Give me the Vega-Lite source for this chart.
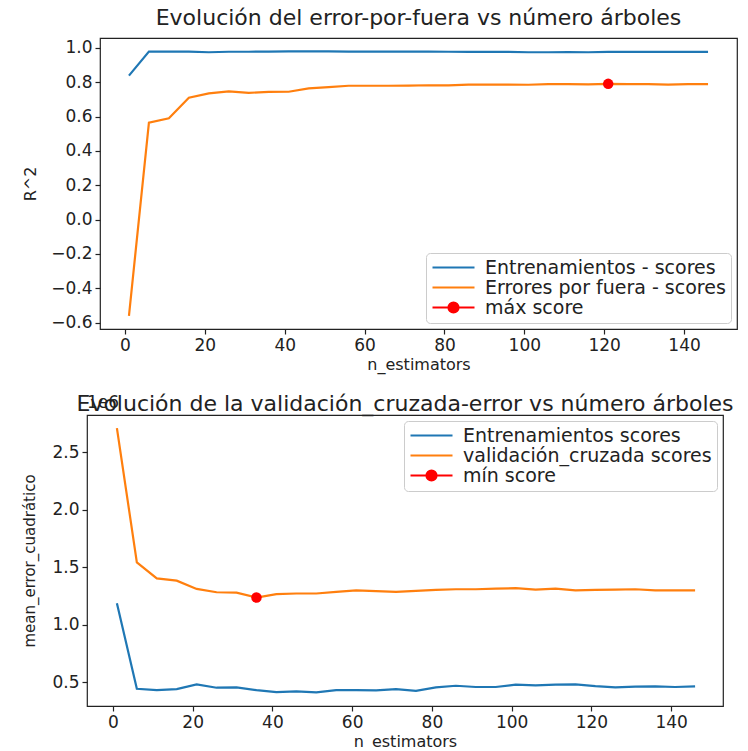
{
  "$schema": "https://vega.github.io/schema/vega-lite/v6.json",
  "background": "white",
  "padding": {"left": 21, "top": 6, "right": 0, "bottom": 0},
  "config": {
    "font": "DejaVu Sans",
    "view": {"stroke": "#222222", "strokeWidth": 1.2},
    "axis": {"grid": false, "domain": false, "tickColor": "#222222", "tickSize": 5, "tickWidth": 1.2, "tickCount": 20, "labelFontSize": 17, "titleFontSize": 16, "labelColor": "#222222", "titleColor": "#222222", "titleFontWeight": "normal", "labelPadding": 3, "labelFlush": false, "labelOverlap": false, "titlePadding": 6},
    "axisX": {"titlePadding": 3},
    "title": {"fontSize": 22, "fontWeight": "normal", "color": "#222222", "offset": 8, "anchor": "middle"},
    "legend": {"labelFontSize": 19, "labelColor": "#222222", "labelLimit": 0, "strokeColor": "#cccccc", "fillColor": "rgba(255,255,255,0.8)", "cornerRadius": 4, "padding": 5, "rowPadding": 0, "symbolType": "M-1,0L4.25,0", "symbolSize": 256, "symbolStrokeWidth": 2.2, "labelOffset": 35, "offset": 6}
  },
  "datasets": {
    "top": [
      {"n": 1, "serie": "Entrenamientos - scores", "score": 0.838},
      {"n": 6, "serie": "Entrenamientos - scores", "score": 0.978},
      {"n": 11, "serie": "Entrenamientos - scores", "score": 0.978},
      {"n": 16, "serie": "Entrenamientos - scores", "score": 0.978},
      {"n": 21, "serie": "Entrenamientos - scores", "score": 0.974},
      {"n": 26, "serie": "Entrenamientos - scores", "score": 0.977},
      {"n": 31, "serie": "Entrenamientos - scores", "score": 0.977},
      {"n": 36, "serie": "Entrenamientos - scores", "score": 0.978},
      {"n": 41, "serie": "Entrenamientos - scores", "score": 0.979},
      {"n": 46, "serie": "Entrenamientos - scores", "score": 0.979},
      {"n": 51, "serie": "Entrenamientos - scores", "score": 0.979},
      {"n": 56, "serie": "Entrenamientos - scores", "score": 0.978},
      {"n": 61, "serie": "Entrenamientos - scores", "score": 0.978},
      {"n": 66, "serie": "Entrenamientos - scores", "score": 0.978},
      {"n": 71, "serie": "Entrenamientos - scores", "score": 0.978},
      {"n": 76, "serie": "Entrenamientos - scores", "score": 0.978},
      {"n": 81, "serie": "Entrenamientos - scores", "score": 0.977},
      {"n": 86, "serie": "Entrenamientos - scores", "score": 0.976},
      {"n": 91, "serie": "Entrenamientos - scores", "score": 0.976},
      {"n": 96, "serie": "Entrenamientos - scores", "score": 0.976},
      {"n": 101, "serie": "Entrenamientos - scores", "score": 0.974},
      {"n": 106, "serie": "Entrenamientos - scores", "score": 0.974},
      {"n": 111, "serie": "Entrenamientos - scores", "score": 0.975},
      {"n": 116, "serie": "Entrenamientos - scores", "score": 0.974},
      {"n": 121, "serie": "Entrenamientos - scores", "score": 0.976},
      {"n": 126, "serie": "Entrenamientos - scores", "score": 0.976},
      {"n": 131, "serie": "Entrenamientos - scores", "score": 0.976},
      {"n": 136, "serie": "Entrenamientos - scores", "score": 0.976},
      {"n": 141, "serie": "Entrenamientos - scores", "score": 0.976},
      {"n": 146, "serie": "Entrenamientos - scores", "score": 0.976},
      {"n": 1, "serie": "Errores por fuera - scores", "score": -0.56},
      {"n": 6, "serie": "Errores por fuera - scores", "score": 0.564},
      {"n": 11, "serie": "Errores por fuera - scores", "score": 0.59},
      {"n": 16, "serie": "Errores por fuera - scores", "score": 0.709},
      {"n": 21, "serie": "Errores por fuera - scores", "score": 0.735},
      {"n": 26, "serie": "Errores por fuera - scores", "score": 0.746},
      {"n": 31, "serie": "Errores por fuera - scores", "score": 0.738},
      {"n": 36, "serie": "Errores por fuera - scores", "score": 0.743},
      {"n": 41, "serie": "Errores por fuera - scores", "score": 0.744},
      {"n": 46, "serie": "Errores por fuera - scores", "score": 0.764},
      {"n": 51, "serie": "Errores por fuera - scores", "score": 0.771},
      {"n": 56, "serie": "Errores por fuera - scores", "score": 0.779},
      {"n": 61, "serie": "Errores por fuera - scores", "score": 0.779},
      {"n": 66, "serie": "Errores por fuera - scores", "score": 0.779},
      {"n": 71, "serie": "Errores por fuera - scores", "score": 0.78},
      {"n": 76, "serie": "Errores por fuera - scores", "score": 0.782},
      {"n": 81, "serie": "Errores por fuera - scores", "score": 0.781},
      {"n": 86, "serie": "Errores por fuera - scores", "score": 0.786},
      {"n": 91, "serie": "Errores por fuera - scores", "score": 0.786},
      {"n": 96, "serie": "Errores por fuera - scores", "score": 0.786},
      {"n": 101, "serie": "Errores por fuera - scores", "score": 0.785},
      {"n": 106, "serie": "Errores por fuera - scores", "score": 0.789},
      {"n": 111, "serie": "Errores por fuera - scores", "score": 0.789},
      {"n": 116, "serie": "Errores por fuera - scores", "score": 0.787},
      {"n": 121, "serie": "Errores por fuera - scores", "score": 0.79},
      {"n": 126, "serie": "Errores por fuera - scores", "score": 0.789},
      {"n": 131, "serie": "Errores por fuera - scores", "score": 0.788},
      {"n": 136, "serie": "Errores por fuera - scores", "score": 0.786},
      {"n": 141, "serie": "Errores por fuera - scores", "score": 0.788},
      {"n": 146, "serie": "Errores por fuera - scores", "score": 0.788}
    ],
    "topmax": [
      {"n": 121, "serie": "máx score", "score": 0.79}
    ],
    "bottom": [
      {"n": 1, "serie": "Entrenamientos scores", "mse": 1188000},
      {"n": 6, "serie": "Entrenamientos scores", "mse": 445000},
      {"n": 11, "serie": "Entrenamientos scores", "mse": 433000},
      {"n": 16, "serie": "Entrenamientos scores", "mse": 442000},
      {"n": 21, "serie": "Entrenamientos scores", "mse": 483000},
      {"n": 26, "serie": "Entrenamientos scores", "mse": 454000},
      {"n": 31, "serie": "Entrenamientos scores", "mse": 457000},
      {"n": 36, "serie": "Entrenamientos scores", "mse": 433000},
      {"n": 41, "serie": "Entrenamientos scores", "mse": 416000},
      {"n": 46, "serie": "Entrenamientos scores", "mse": 422000},
      {"n": 51, "serie": "Entrenamientos scores", "mse": 413000},
      {"n": 56, "serie": "Entrenamientos scores", "mse": 433000},
      {"n": 61, "serie": "Entrenamientos scores", "mse": 433000},
      {"n": 66, "serie": "Entrenamientos scores", "mse": 430000},
      {"n": 71, "serie": "Entrenamientos scores", "mse": 442000},
      {"n": 76, "serie": "Entrenamientos scores", "mse": 427000},
      {"n": 81, "serie": "Entrenamientos scores", "mse": 457000},
      {"n": 86, "serie": "Entrenamientos scores", "mse": 471000},
      {"n": 91, "serie": "Entrenamientos scores", "mse": 460000},
      {"n": 96, "serie": "Entrenamientos scores", "mse": 460000},
      {"n": 101, "serie": "Entrenamientos scores", "mse": 480000},
      {"n": 106, "serie": "Entrenamientos scores", "mse": 474000},
      {"n": 111, "serie": "Entrenamientos scores", "mse": 480000},
      {"n": 116, "serie": "Entrenamientos scores", "mse": 483000},
      {"n": 121, "serie": "Entrenamientos scores", "mse": 468000},
      {"n": 126, "serie": "Entrenamientos scores", "mse": 457000},
      {"n": 131, "serie": "Entrenamientos scores", "mse": 463000},
      {"n": 136, "serie": "Entrenamientos scores", "mse": 466000},
      {"n": 141, "serie": "Entrenamientos scores", "mse": 460000},
      {"n": 146, "serie": "Entrenamientos scores", "mse": 466000},
      {"n": 1, "serie": "validación_cruzada scores", "mse": 2711000},
      {"n": 6, "serie": "validación_cruzada scores", "mse": 1544000},
      {"n": 11, "serie": "validación_cruzada scores", "mse": 1405000},
      {"n": 16, "serie": "validación_cruzada scores", "mse": 1385000},
      {"n": 21, "serie": "validación_cruzada scores", "mse": 1313000},
      {"n": 26, "serie": "validación_cruzada scores", "mse": 1284000},
      {"n": 31, "serie": "validación_cruzada scores", "mse": 1281000},
      {"n": 36, "serie": "validación_cruzada scores", "mse": 1238000},
      {"n": 41, "serie": "validación_cruzada scores", "mse": 1267000},
      {"n": 46, "serie": "validación_cruzada scores", "mse": 1273000},
      {"n": 51, "serie": "validación_cruzada scores", "mse": 1273000},
      {"n": 56, "serie": "validación_cruzada scores", "mse": 1287000},
      {"n": 61, "serie": "validación_cruzada scores", "mse": 1301000},
      {"n": 66, "serie": "validación_cruzada scores", "mse": 1293000},
      {"n": 71, "serie": "validación_cruzada scores", "mse": 1287000},
      {"n": 76, "serie": "validación_cruzada scores", "mse": 1296000},
      {"n": 81, "serie": "validación_cruzada scores", "mse": 1304000},
      {"n": 86, "serie": "validación_cruzada scores", "mse": 1310000},
      {"n": 91, "serie": "validación_cruzada scores", "mse": 1310000},
      {"n": 96, "serie": "validación_cruzada scores", "mse": 1316000},
      {"n": 101, "serie": "validación_cruzada scores", "mse": 1319000},
      {"n": 106, "serie": "validación_cruzada scores", "mse": 1307000},
      {"n": 111, "serie": "validación_cruzada scores", "mse": 1316000},
      {"n": 116, "serie": "validación_cruzada scores", "mse": 1301000},
      {"n": 121, "serie": "validación_cruzada scores", "mse": 1304000},
      {"n": 126, "serie": "validación_cruzada scores", "mse": 1307000},
      {"n": 131, "serie": "validación_cruzada scores", "mse": 1310000},
      {"n": 136, "serie": "validación_cruzada scores", "mse": 1301000},
      {"n": 141, "serie": "validación_cruzada scores", "mse": 1301000},
      {"n": 146, "serie": "validación_cruzada scores", "mse": 1301000}
    ],
    "bottommin": [
      {"n": 36, "serie": "mín score", "mse": 1238000}
    ],
    "empty": []
  },
  "vconcat": [
    {
      "spacing": 0,
      "resolve": {"scale": {"color": "independent", "x": "independent", "y": "independent"}, "legend": {"color": "independent"}},
      "hconcat": [
        {
          "width": 1, "height": 1,
          "view": {"stroke": null},
          "data": {"name": "empty"},
          "mark": "point"
        },
        {
          "title": "Evolución del error-por-fuera vs número árboles",
          "width": 637,
          "height": 291,
          "layer": [
            {
              "data": {"name": "top"},
              "mark": {"type": "line", "strokeWidth": 2.2},
              "encoding": {
                "x": {"field": "n", "type": "quantitative", "scale": {"domain": [-6.25, 153.25], "nice": false, "zero": false}, "axis": {"values": [0, 20, 40, 60, 80, 100, 120, 140], "title": "n_estimators", "labelOverlap": false, "tickCount": 20}},
                "y": {"field": "score", "type": "quantitative", "scale": {"domain": [-0.637, 1.057], "nice": false, "zero": false}, "axis": {"values": [-0.6, -0.4, -0.2, 0, 0.2, 0.4, 0.6, 0.8, 1.0], "format": ".1f", "title": "R^2", "labelOverlap": false, "tickCount": 20, "titlePadding": 12}},
                "color": {
                  "field": "serie", "type": "nominal",
                  "scale": {"domain": ["Entrenamientos - scores", "Errores por fuera - scores", "máx score"], "range": ["#1f77b4", "#ff7f0e", "#ff0000"]},
                  "legend": {
                    "title": null, "orient": "bottom-right",
                    "encode": {"symbols": {"update": {
                      "shape": {"signal": "datum.value === 'máx score' ? 'M-1,0L4.25,0M1,0A0.625,0.625 0 1,1 2.25,0A0.625,0.625 0 1,1 1,0Z' : 'M-1,0L4.25,0'"},
                      "fill": {"signal": "datum.value === 'máx score' ? '#ff0000' : 'transparent'"}
                    }}}
                  }
                }
              }
            },
            {
              "data": {"name": "topmax"},
              "mark": {"type": "point", "filled": true, "size": 110, "opacity": 1, "shape": "circle"},
              "encoding": {
                "x": {"field": "n", "type": "quantitative"},
                "y": {"field": "score", "type": "quantitative"},
                "color": {"field": "serie", "type": "nominal"}
              }
            }
          ]
        }
      ]
    },
    {
      "spacing": 0,
      "resolve": {"scale": {"color": "independent", "x": "independent", "y": "independent"}, "legend": {"color": "independent"}},
      "hconcat": [
        {
          "width": 1, "height": 1,
          "view": {"stroke": null},
          "data": {"name": "empty"},
          "mark": "point"
        },
        {
          "title": {"text": "Evolución de la validación_cruzada-error vs número árboles", "offset": -22},
          "width": 636,
          "height": 291,
          "layer": [
            {
              "data": {"name": "bottom"},
              "mark": {"type": "line", "strokeWidth": 2.2},
              "encoding": {
                "x": {"field": "n", "type": "quantitative", "scale": {"domain": [-6.5, 153], "nice": false, "zero": false}, "axis": {"values": [0, 20, 40, 60, 80, 100, 120, 140], "title": "n_estimators", "labelOverlap": false, "tickCount": 20}},
                "y": {"field": "mse", "type": "quantitative", "scale": {"domain": [295000, 2825000], "nice": false, "zero": false}, "axis": {"values": [500000, 1000000, 1500000, 2000000, 2500000], "labelExpr": "format(datum.value / 1000000, '.1f')", "title": "mean_error_cuadrático", "titleFontSize": 15, "labelOverlap": false, "tickCount": 20, "titlePadding": 14}},
                "color": {
                  "field": "serie", "type": "nominal",
                  "scale": {"domain": ["Entrenamientos scores", "validación_cruzada scores", "mín score"], "range": ["#1f77b4", "#ff7f0e", "#ff0000"]},
                  "legend": {
                    "title": null, "orient": "top-right",
                    "encode": {"symbols": {"update": {
                      "shape": {"signal": "datum.value === 'mín score' ? 'M-1,0L4.25,0M1,0A0.625,0.625 0 1,1 2.25,0A0.625,0.625 0 1,1 1,0Z' : 'M-1,0L4.25,0'"},
                      "fill": {"signal": "datum.value === 'mín score' ? '#ff0000' : 'transparent'"}
                    }}}
                  }
                }
              }
            },
            {
              "data": {"name": "bottommin"},
              "mark": {"type": "point", "filled": true, "size": 110, "opacity": 1, "shape": "circle"},
              "encoding": {
                "x": {"field": "n", "type": "quantitative"},
                "y": {"field": "mse", "type": "quantitative"},
                "color": {"field": "serie", "type": "nominal"}
              }
            },
            {
              "data": {"values": [{"label": "1e6"}]},
              "mark": {"type": "text", "align": "left", "baseline": "bottom", "dy": -3, "fontSize": 17, "color": "#222222"},
              "encoding": {
                "x": {"datum": -6.5, "type": "quantitative"},
                "y": {"datum": 2825000, "type": "quantitative"},
                "text": {"field": "label", "type": "nominal"}
              }
            }
          ]
        }
      ]
    }
  ],
  "spacing": 19,
  "resolve": {"scale": {"color": "independent", "x": "independent", "y": "independent"}, "legend": {"color": "independent"}}
}
